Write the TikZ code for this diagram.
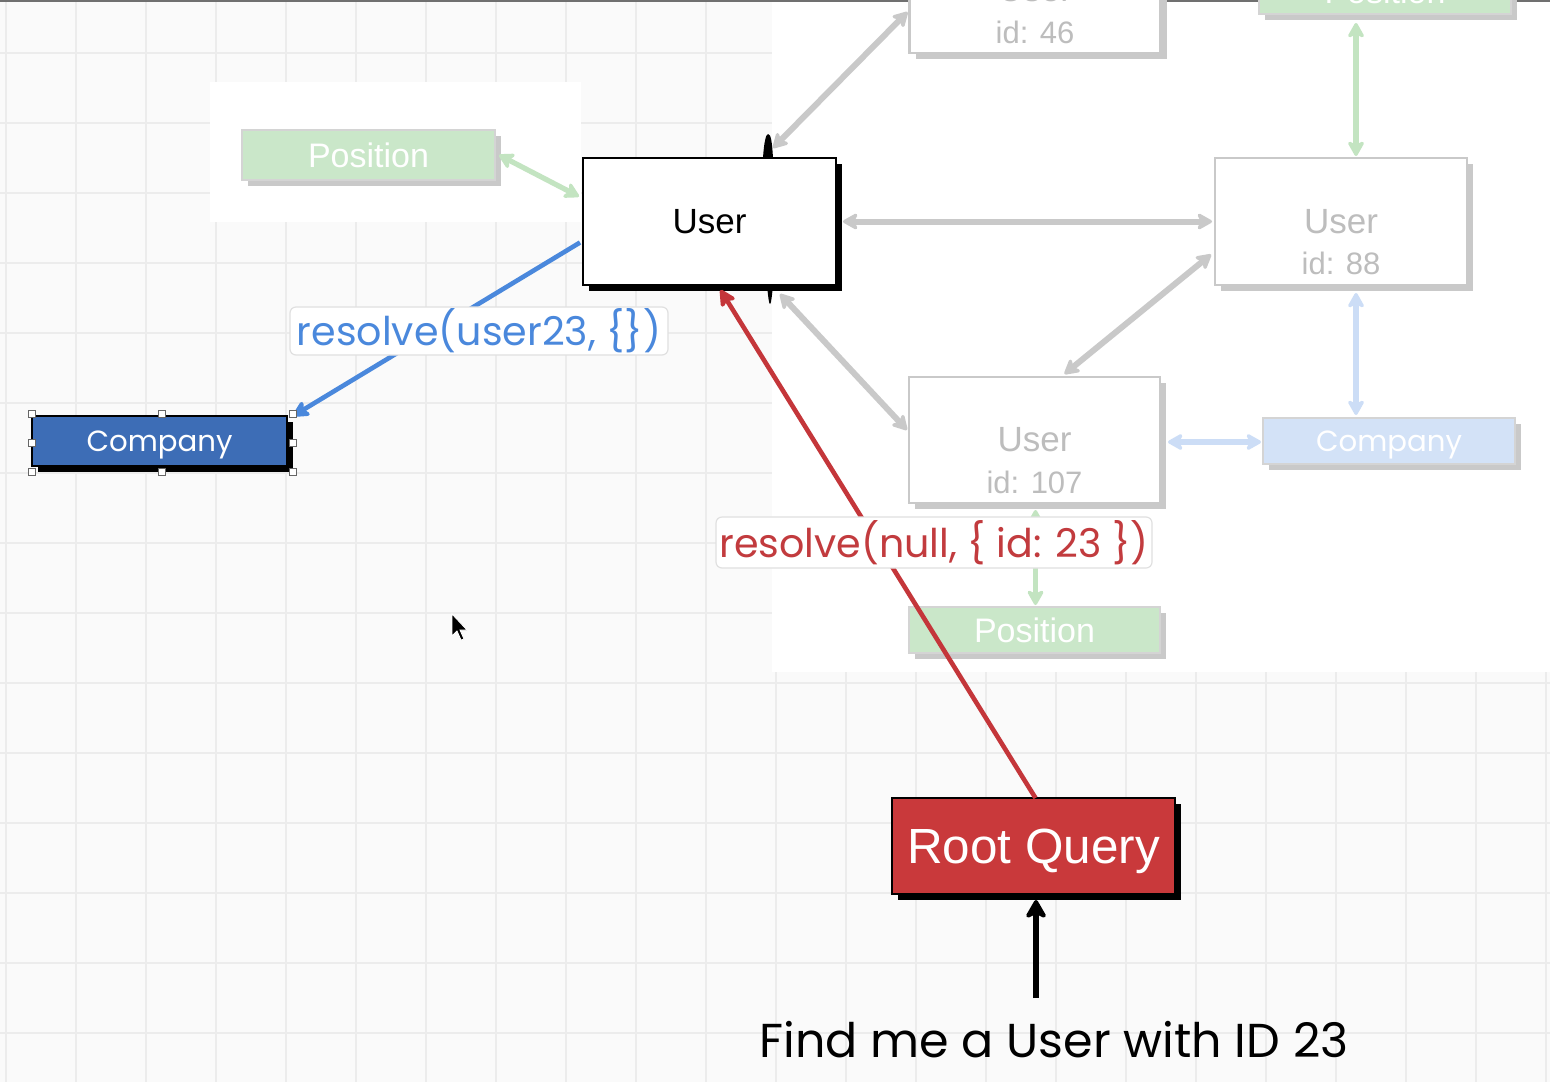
\documentclass[tikz,border=0pt]{standalone}
\usepackage{fontspec}
\setmainfont{Liberation Sans}
\newfontfamily\popfont{Poppins}
\usetikzlibrary{arrows.meta,shadows,calc}

\definecolor{gridbg}{HTML}{FAFAFA}
\definecolor{gridln}{HTML}{ECECEC}
\definecolor{ghost}{HTML}{C9C9C9}
\definecolor{ghosttext}{HTML}{BDBDBD}
\definecolor{posfill}{HTML}{CAE7C9}
\definecolor{posline}{HTML}{C3E4C1}
\definecolor{lbfill}{HTML}{D3E2F7}
\definecolor{lbline}{HTML}{CCDDF6}
\definecolor{qred}{HTML}{C9393B}
\definecolor{qredline}{HTML}{C4363A}
\definecolor{qredtext}{HTML}{C23B3E}
\definecolor{cblue}{HTML}{3D6DB6}
\definecolor{bline}{HTML}{4A88DC}
\definecolor{lblborder}{HTML}{E0E0E0}
\definecolor{topedge}{HTML}{707070}

\begin{document}
\begin{tikzpicture}[x=0.5pt, y=-0.5pt,
  boxbase/.style={rectangle, inner sep=0pt, outer sep=0pt},
  darkbox/.style={boxbase, draw=black, line width=1pt,
    drop shadow={shadow xshift=3pt, shadow yshift=-3pt, fill=black, opacity=1}},
  ghostbox/.style={boxbase, draw=ghost, line width=1.2pt, fill=white, text=ghosttext,
    font=\fontsize{17.5}{20}\selectfont,
    drop shadow={shadow xshift=3pt, shadow yshift=-3pt, fill=ghost, opacity=1}},
  tagbox/.style={boxbase, draw=ghost!80, line width=0.6pt, text=white,
    font=\fontsize{17}{20}\selectfont,
    drop shadow={shadow xshift=3pt, shadow yshift=-3pt, fill=ghost, opacity=1}},
  companytext/.style={font=\popfont\fontsize{14.6}{18}\selectfont, text height=10.2pt, text depth=0pt},
  idtext/.style={text=ghosttext, inner sep=0pt, font=\fontsize{15.5}{18}\selectfont},
  ghostarrow/.style={draw=ghost, line width=3pt, {Stealth[length=9pt, width=10pt, inset=2.5pt, round]}-{Stealth[length=9pt, width=10pt, inset=2.5pt, round]}},
  posarrow/.style={ghostarrow, draw=posline, line width=2.6pt},
  lbarrow/.style={ghostarrow, draw=lbline, line width=2.6pt},
  redarrow/.style={draw=qredline, line width=2.3pt, -{Stealth[length=10pt, width=10pt, inset=2.5pt, round]}},
  bluearrow/.style={draw=bline, line width=2.3pt, -{Stealth[length=10pt, width=10pt, inset=2.5pt, round]}},
  blackarrow/.style={draw=black, line width=3pt, -{Stealth[length=11pt, width=12.5pt, inset=3pt, round]}},
  lbl/.style={rectangle, draw=lblborder, line width=0.6pt, fill=white, rounded corners=3pt,
    inner sep=0pt, font=\popfont\fontsize{19.8}{23}\selectfont},
  handle/.style={rectangle, draw=black!60, fill=white, line width=0.4pt, minimum size=3.5pt, inner sep=0pt},
  gridline/.style={draw=gridln, line width=0.6pt}
]
\useasboundingbox (0,0) rectangle (1550,1082);
\clip (0,0) rectangle (1550,1082);

% canvas with grid
\fill[gridbg] (0,0) rectangle (1550,1082);
\foreach \gx in {6,76,...,1546} \draw[gridline] (\gx,0) -- (\gx,1082);
\foreach \gy in {53,123,...,1033} \draw[gridline] (0,\gy) -- (1550,\gy);
% plain white panels
\fill[white] (772,0) rectangle (1550,672);
\fill[white] (210,82) rectangle (581,222);
% upper frame edge
\fill[topedge] (0,0) rectangle (1550,2);

% ghost users and their fields
\node[ghostbox, minimum width=125.5pt, minimum height=63pt] (user46) at (1035,-10) {User};
\node[idtext] (id46) at ($(user46.center)+(0,42)$) {id: 46};
\node[ghostbox, minimum width=126pt, minimum height=63.5pt] (user88) at (1341,221.5) {User};
\node[idtext] (id88) at ($(user88.center)+(0,42)$) {id: 88};
\node[ghostbox, minimum width=125.5pt, minimum height=63pt] (user107) at (1034.5,440) {User};
\node[idtext] (id107) at ($(user107.center)+(0,42)$) {id: 107};

\node[tagbox, fill=posfill, minimum width=126.5pt, minimum height=25pt] (posTL) at (368.5,155) {Position};
\node[tagbox, fill=posfill, minimum width=126pt, minimum height=23pt] (posTR) at (1385,-9) {Position};
\node[tagbox, fill=posfill, minimum width=125.5pt, minimum height=23pt] (posB) at (1034.5,630) {Position};
\node[tagbox, companytext, fill=lbfill, minimum width=126pt, minimum height=23pt] (compR) at (1389,441) {Company};

% highlighted nodes
\node[darkbox, fill=white, minimum width=126.5pt, minimum height=63.5pt,
  font=\fontsize{17.5}{20}\selectfont] (userM) at (709.5,221.5) {User};
\node[darkbox, companytext, fill=cblue, text=white, minimum width=127.5pt, minimum height=25pt] (compB) at (159.5,441) {Company};
\node[darkbox, fill=qred, text=white, minimum width=141.5pt, minimum height=48pt,
  text height=17.7pt, text depth=0pt, font=\fontsize{24.7}{28}\selectfont] (rootQ) at (1033.5,846) {Root Query};
\node[inner sep=0pt, font=\popfont\fontsize{23.8}{28}\selectfont] (find) at (1054,1040) {Find me a User with ID 23};
\coordinate (ask) at (1036,998);

% ghost relations
\draw[ghostarrow] ($(userM.north east)+(-63,-10)$) -- ($(user46.west)+(-2,22)$);
\draw[ghostarrow] ($(userM.east)+(7,0)$) -- ($(user88.west)+(-3,0)$);
\draw[ghostarrow] ($(user88.west)+(-4,33)$) -- ($(user107.north)+(30,-3)$);
\draw[ghostarrow] ($(userM.south east)+(-56,9)$) -- ($(user107.west)+(-2,-10)$);
\draw[lbarrow] ($(user88.south)+(15,8)$) -- ($(compR.north)+(-33,-3)$);
\draw[lbarrow] ($(user107.east)+(8,2)$) -- ($(compR.west)+(-2,1)$);
\draw[posarrow] ($(posTR.south)+(-29,9)$) -- ($(user88.north)+(15,-2)$);
\draw[posarrow] ($(user107.south)+(1,7)$) -- ($(posB.north)+(1,-2)$);
\draw[posarrow] ($(posTL.east)+(4,0)$) -- ($(userM.west)+(-4,-25)$);

% sketch marks on the highlighted user
\fill[black] (763,158) .. controls (764,142) and (766,134) .. (768,134)
  .. controls (771,134) and (772,142) .. (773,158) -- cycle;
\fill[black] (767,285) .. controls (768,296) and (769,304) .. (770,304)
  .. controls (771,304) and (772,296) .. (773,285) -- cycle;

% resolution path
\draw[redarrow] ($(rootQ.north)+(2,0)$) -- ($(userM.south)+(11,5)$);
\draw[bluearrow] ($(userM.west)+(-3,21)$) -- ($(compB.north east)+(6,0)$);
\draw[blackarrow] (ask) -- ($(rootQ.south)+(2.5,6)$);

% resolver labels
\node[lbl, text=bline, minimum width=189pt, minimum height=24pt] (lblUser) at (479,331) {resolve(user23, \{\})};
\node[lbl, text=qredtext, minimum width=218pt, minimum height=25.5pt] (lblRoot) at (934,542.5) {resolve(null, \{ id: 23 \})};

% selection handles
\foreach \hx/\hy in {32/414,162/414,293/414,32/443,293/443,32/472,162/472,293/472}
  \node[handle] at (\hx,\hy) {};

% pointer
\filldraw[fill=black, draw=white, line width=0.4pt]
  (452,614) -- (452,636) -- (457,631) -- (461,640) -- (464,639) -- (460,630) -- (467,630) -- cycle;
\end{tikzpicture}
\end{document}
